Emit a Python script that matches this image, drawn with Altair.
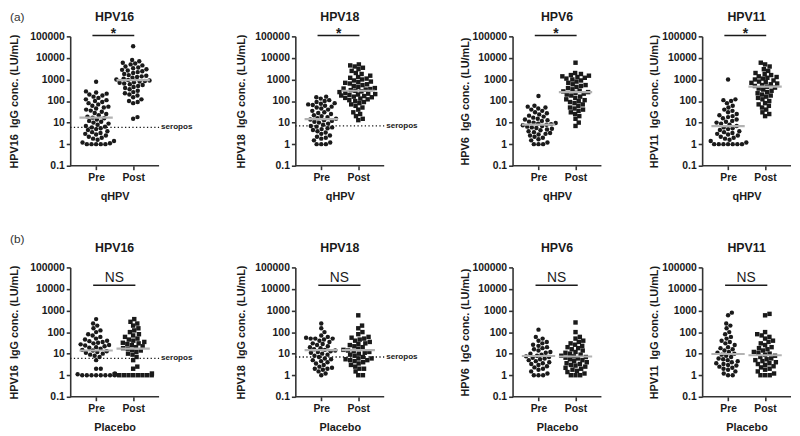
import math
import altair as alt
import pandas as pd

# ---------------- data ----------------
types = ["HPV16", "HPV18", "HPV6", "HPV11"]
pre_post = ["Pre", "Post"]
groups = ["qHPV", "Placebo"]
y_ticks = [0.1, 1, 10, 100, 1000, 10000, 100000]

q16_pre = [1, 1, 1, 1, 1, 1.1, 1.2, 1.4, 1.6, 1.8, 2, 2.2, 2.5, 2.8, 3, 3.3, 3.6, 4, 4.5, 5, 5.5, 6, 6.5, 7, 8, 9, 10,
           11, 12, 14, 16, 17, 19, 22, 25, 28, 32, 36, 40, 45, 50, 55, 60, 70, 80, 90, 100, 110, 120, 140, 160, 180,
           200, 220, 250, 280, 780]
q16_post = [15, 18, 80, 90, 100, 120, 150, 180, 200, 230, 260, 300, 350, 400, 450, 500, 550, 600, 650, 700, 750, 800,
            850, 900, 950, 1000, 1100, 1200, 1300, 1400, 1500, 1600, 1800, 2000, 2200, 2400, 2600, 2800, 3000, 3300,
            3600, 4000, 4500, 5000, 5500, 6000, 7000, 8000, 35000]
q18_pre = [1, 1, 1, 1.2, 1.5, 1.8, 2, 2.2, 2.5, 3, 3.5, 4, 4.5, 5, 5.5, 6, 6.5, 7, 8, 9, 10, 11, 12, 13, 14, 15, 16, 18,
           20, 22, 25, 28, 30, 35, 40, 45, 50, 55, 60, 65, 70, 75, 80, 90, 100, 110, 130, 150, 160]
q18_post = [13, 15, 20, 25, 30, 40, 50, 60, 70, 80, 90, 100, 110, 120, 130, 140, 150, 160, 170, 180, 190, 200, 210, 220,
            240, 260, 280, 300, 320, 340, 360, 380, 400, 450, 500, 550, 600, 650, 700, 750, 800, 900, 1000, 1100, 1200,
            1300, 1500, 1800, 2000, 2500, 3000, 3500, 4000, 4500, 5000]
q6_pre = [1, 1, 1, 1.2, 1.5, 1.7, 2, 2.2, 2.5, 2.8, 3, 3.3, 3.6, 4, 4.4, 4.8, 5.2, 5.6, 6, 6.5, 7, 7.5, 8, 8.5, 9, 9.5,
          10, 11, 12, 13, 14, 15, 17, 19, 21, 24, 27, 30, 35, 40, 45, 50, 55, 60, 170]
q6_post = [7, 10, 15, 20, 25, 30, 35, 40, 45, 50, 60, 70, 80, 90, 100, 110, 120, 140, 160, 180, 200, 220, 240, 260, 280,
           300, 350, 400, 450, 500, 550, 600, 700, 800, 900, 1000, 1100, 1200, 1300, 1400, 1500, 1600, 1800, 2000, 6000]
q11_pre = [1, 1, 1, 1, 1, 1, 1, 1.2, 1.4, 1.6, 1.8, 2, 2.2, 2.5, 2.8, 3, 3.3, 3.6, 4, 4.5, 5, 5.5, 6, 7, 8, 9, 10, 11,
           12, 14, 16, 18, 20, 22, 25, 30, 35, 40, 50, 60, 80, 100, 110, 120, 1000]
q11_post = [20, 25, 30, 40, 50, 60, 70, 80, 100, 120, 140, 160, 180, 200, 230, 260, 300, 340, 380, 420, 460, 500, 550,
            600, 650, 700, 750, 800, 900, 1000, 1100, 1200, 1300, 1400, 1600, 1800, 2000, 2500, 3000, 4000, 5000, 6000]

p16_pre = [1, 1, 1, 1, 1, 1, 1, 1, 1.1, 1.2, 2, 2, 5, 7, 8, 9, 10, 11, 12, 13, 14, 15, 17, 19, 20, 22, 24, 25, 27, 30,
           32, 35, 38, 40, 45, 50, 60, 70, 80, 100, 120, 150, 200, 250, 400]
p16_post = [1, 1, 1, 1, 1, 1, 1, 1, 1.1, 1.2, 2, 2.5, 5, 7, 9, 10, 12, 14, 15, 17, 18, 20, 22, 25, 28, 30, 32, 35, 40,
            45, 50, 60, 70, 80, 100, 120, 150, 200, 250, 300, 400]
p18_pre = [1, 1.2, 1.5, 1.8, 2, 2, 2.2, 2.5, 3, 3.5, 4, 4.5, 5, 5.5, 6, 7, 8, 9, 10, 11, 12, 13, 14, 15, 16, 18, 20, 22,
           25, 28, 30, 35, 40, 45, 50, 50, 50, 55, 60, 70, 100, 150, 250]
p18_post = [1, 1, 1.5, 2, 2, 2.5, 3, 3.5, 4, 4.5, 5, 5, 5.5, 6, 6, 7, 8, 9, 10, 11, 12, 13, 14, 15, 17, 20, 22, 25, 28,
            30, 35, 40, 45, 50, 55, 60, 80, 100, 150, 200, 600]
p6_pre = [1, 1, 1, 1.2, 1.5, 1.8, 2, 2.3, 2.6, 3, 3.3, 3.6, 4, 4.5, 5, 5.5, 6, 6.5, 7, 7.5, 8, 9, 10, 11, 12, 14, 16, 18,
          20, 23, 26, 30, 35, 40, 50, 60, 130]
p6_post = [1, 1, 1, 1.2, 1.4, 1.6, 1.8, 2, 2.2, 2.5, 2.8, 3, 3.3, 3.6, 4, 4.5, 5, 5.5, 6, 6.5, 7, 7.5, 8, 9, 10, 11, 12,
           14, 16, 18, 20, 23, 26, 30, 35, 40, 50, 60, 100, 280]
p11_pre = [1, 1, 1.2, 1.5, 1.8, 2, 2.2, 2.5, 2.8, 3, 3.3, 3.6, 4, 4.5, 5, 5.5, 6, 7, 8, 9, 10, 11, 12, 14, 16, 18, 20,
           25, 30, 35, 40, 50, 60, 80, 100, 150, 200, 250, 600, 800]
p11_post = [1, 1, 1, 1.2, 1.5, 1.8, 2, 2.3, 2.6, 3, 3.3, 3.6, 4, 4.5, 5, 5.5, 6, 7, 8, 9, 10, 11, 12, 14, 16, 18, 20,
            25, 30, 35, 40, 50, 60, 70, 80, 100, 600, 700]

q_median_pre = [17, 14.6, 8.1, 6.9]
q_median_post = [930, 300, 257, 465]
p_median_pre = [14, 14.5, 7.8, 9.6]
p_median_post = [17, 14.5, 7.4, 8.4]
seropos_level = [6, 7, None, None]
q_sig = "*"
p_sig = "NS"
seropos_text = "seropos"
q_post_shape = ["circle", "square", "square", "square"]
p_post_shape = ["square", "square", "square", "square"]

# ---------------- layout / style ----------------
FONT = "Liberation Sans"
INK = "#1a1a1a"
H = 131
AXIS_LEN = 90
XMIN = -0.7
PXU = AXIS_LEN / 2.4            # pixels per x unit
PPD = H / 6.0                   # pixels per decade
widths = [126, 118, 90, 90]
title_pads = [10, 8, 2, 2]
DOT = 4.7


def swarm(vals, d=DOT, maxw=19.0):
    ys = [PPD * math.log10(v) for v in vals]
    order = sorted(range(len(vals)), key=lambda i: ys[i])
    placed = []
    offs = [0.0] * len(vals)
    for i in order:
        y = ys[i]
        near = [(px, py) for px, py in placed if abs(py - y) < d]
        cands = [0.0]
        for px, py in near:
            dx = math.sqrt(max(d * d - (py - y) ** 2, 0))
            cands += [px + dx, px - dx]
        cands.sort(key=abs)
        best = cands[-1]
        for c in cands:
            if all((c - px) ** 2 + (y - py) ** 2 >= d * d - 1e-6 for px, py in near):
                best = c
                break
        if abs(best) > maxw:
            best = math.copysign(maxw, best)
        placed.append((best, y))
        offs[i] = best
    return offs


def panel(k, row, pre, post, med_pre, med_post, post_shape, tag=None):
    name = types[k]
    w = widths[k]
    xmax = XMIN + w / PXU
    xaxis = alt.Axis(values=[0, 1], labelExpr=f"datum.value == 0 ? '{pre_post[0]}' : '{pre_post[1]}'",
                     title=groups[row], domain=False, labelPadding=3, titlePadding=8, titleX=AXIS_LEN / 2)
    yaxis = alt.Axis(values=y_ticks, format="~g", title=f"{name}\u00a0 IgG conc. (LU/mL)",
                     titlePadding=title_pads[k])
    xs = alt.Scale(domain=[XMIN, xmax], nice=False, zero=False)
    ys = alt.Scale(type="log", domain=[0.1, 100000], nice=False)

    def X(f="x"):
        return alt.X(f"{f}:Q", scale=xs, axis=xaxis)

    def Y(f="v"):
        return alt.Y(f"{f}:Q", scale=ys, axis=yaxis)

    layers = []
    for gi, vals in enumerate([pre, post]):
        offs = swarm(vals)
        df = pd.DataFrame({"x": [gi + o / PXU for o in offs], "v": vals})
        shape = "circle" if gi == 0 else post_shape
        layers.append(alt.Chart(df).mark_point(filled=True, shape=shape, size=20, color=INK, opacity=1)
                      .encode(x=X(), y=Y()))

    med = pd.DataFrame({"x": [-0.45, 0.55], "x2": [0.45, 1.45], "v": [med_pre, med_post]})
    layers.append(alt.Chart(med).mark_rule(color="#b3b3b3", strokeWidth=2.2)
                  .encode(x=X(), x2="x2:Q", y=Y()))

    xl = pd.DataFrame({"x": [XMIN], "x2": [XMIN + 2.4], "v": [0.1]})
    layers.append(alt.Chart(xl).mark_rule(color="#333333", strokeWidth=1.6)
                  .encode(x=X(), x2="x2:Q", y=Y()))

    if seropos_level[k] is not None:
        sp = pd.DataFrame({"x": [XMIN], "x2": [XMIN + 2.4], "v": [seropos_level[k]], "t": [seropos_text]})
        layers.append(alt.Chart(sp).mark_rule(color=INK, strokeWidth=1.3, strokeDash=[1.3, 2.4])
                      .encode(x=X(), x2="x2:Q", y=Y()))
        layers.append(alt.Chart(sp).mark_text(align="left", baseline="middle", dx=2, font=FONT,
                                              fontWeight="bold", fontSize=8.2, color=INK)
                      .encode(x=X("x2"), y=Y(), text="t:N"))

    if row == 0:
        br = pd.DataFrame({"x": [-0.1], "x2": [1.03], "v": [110000], "t": [q_sig], "tv": [80000], "tx": [0.47]})
        layers.append(alt.Chart(br).mark_rule(color=INK, strokeWidth=1.4)
                      .encode(x=X(), x2="x2:Q", y=Y()))
        layers.append(alt.Chart(br).mark_text(baseline="alphabetic", font=FONT, fontWeight="bold",
                                              fontSize=14, color=INK)
                      .encode(x=X("tx"), y=Y("tv"), text="t:N"))
    else:
        br = pd.DataFrame({"x": [-0.08], "x2": [1.06], "v": [14800], "t": [p_sig], "tv": [20000], "tx": [0.49]})
        layers.append(alt.Chart(br).mark_rule(color=INK, strokeWidth=1.4)
                      .encode(x=X(), x2="x2:Q", y=Y()))
        layers.append(alt.Chart(br).mark_text(baseline="alphabetic", font=FONT, fontWeight="normal",
                                              fontSize=14, color=INK)
                      .encode(x=X("tx"), y=Y("tv"), text="t:N"))

    # panel title as a text mark centred over the axis
    tt = pd.DataFrame({"t": [name], "x": [XMIN + 1.2]})
    layers.append(alt.Chart(tt).mark_text(baseline="middle", font=FONT, fontWeight="bold", fontSize=12.5,
                                          color=INK)
                  .encode(x=X(), y=alt.value(-19.5), text="t:N"))

    if tag is not None:
        tg = pd.DataFrame({"t": [tag]})
        layers.append(alt.Chart(tg).mark_text(align="left", baseline="middle", font=FONT, fontSize=12,
                                              color="#333333")
                      .encode(x=alt.value(-61), y=alt.value(-19.5 if row == 0 else -29), text="t:N"))

    return alt.layer(*layers).properties(width=w, height=H)


q_sets = [(q16_pre, q16_post), (q18_pre, q18_post), (q6_pre, q6_post), (q11_pre, q11_post)]
p_sets = [(p16_pre, p16_post), (p18_pre, p18_post), (p6_pre, p6_post), (p11_pre, p11_post)]

panels = []
for k in range(4):
    panels.append(panel(k, 0, q_sets[k][0], q_sets[k][1], q_median_pre[k], q_median_post[k], q_post_shape[k],
                        tag="(a)" if k == 0 else None))
for k in range(4):
    panels.append(panel(k, 1, p_sets[k][0], p_sets[k][1], p_median_pre[k], p_median_post[k], p_post_shape[k],
                        tag="(b)" if k == 0 else None))

chart = alt.concat(*panels, columns=4, spacing={"row": 103, "column": 102}, bounds="flush", align="each").properties(
    padding=0
).configure_view(stroke=None).configure_axis(
    domainColor="#333333", domainWidth=1.6, tickColor="#333333", tickWidth=1.6, tickSize=4,
    labelFont=FONT, labelFontWeight="bold", labelFontSize=10.5, labelColor=INK, labelPadding=2,
    titleFont=FONT, titleFontWeight="bold", titleFontSize=11, titleColor=INK, grid=False,
)

chart.save("out.html", embed_options={"renderer": "svg", "actions": False})
